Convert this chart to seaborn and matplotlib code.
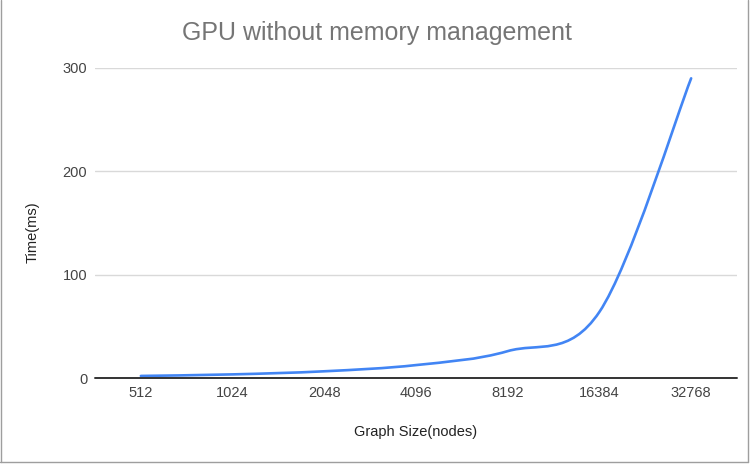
import numpy as np
import matplotlib
matplotlib.use("Agg")
import matplotlib.pyplot as plt
from matplotlib.path import Path
from matplotlib.patches import PathPatch
from matplotlib.lines import Line2D
import seaborn as sns

# graph sizes (category axis) and measured times
graph_sizes = ["512", "1024", "2048", "4096", "8192", "16384", "32768"]
time_ms = [2, 3.5, 6.5, 12.5, 26, 64, 290]
y_ticks = [0, 100, 200, 300]

sns.set_theme(style="whitegrid")
plt.rcParams['font.family'] = ['Liberation Sans', 'DejaVu Sans']

fig = plt.figure(figsize=(7.53, 4.67), dpi=100)
ax = fig.add_axes([95 / 753, 1 - 378 / 467, (737 - 95) / 753, (378 - 68) / 467])

# smooth line like the spreadsheet "smooth" option: catmull-rom -> cubic bezier
pts = np.column_stack([np.arange(len(time_ms)), time_ms]).astype(float)
verts = [tuple(pts[0])]
codes = [Path.MOVETO]
n = len(pts)
for i in range(n - 1):
    p0 = pts[max(i - 1, 0)]
    p1 = pts[i]
    p2 = pts[i + 1]
    p3 = pts[min(i + 2, n - 1)]
    c1 = p1 + (p2 - p0) / 6
    c2 = p2 - (p3 - p1) / 6
    verts += [tuple(c1), tuple(c2), tuple(p2)]
    codes += [Path.CURVE4] * 3
ax.add_patch(PathPatch(Path(verts, codes), facecolor="none", edgecolor="#4285f4",
                       lw=1.9, capstyle="round", joinstyle="round", zorder=3))

ax.set_xlim(-0.5, len(graph_sizes) - 0.5)
ax.set_ylim(0, 300)
ax.set_xticks(range(len(graph_sizes)))
ax.set_xticklabels(graph_sizes)
ax.set_yticks(y_ticks)
ax.grid(axis="x", visible=False)
ax.grid(axis="y", color="#d9d9d9", lw=1)
ax.axhline(0, color="#333333", lw=1.4, zorder=4, clip_on=False)
ax.set_facecolor("white")
sns.despine(ax=ax, left=True, bottom=True)
ax.tick_params(axis="both", length=0, labelsize=10.5, labelcolor="#444444")
ax.tick_params(axis="x", pad=6)
ax.tick_params(axis="y", pad=5.5)

ax.set_xlabel("Graph Size(nodes)", fontsize=10.5, color="#222222")
ax.set_ylabel("Time(ms)", fontsize=10.5, color="#222222")
ax.xaxis.set_label_coords(0.5, -(432 - 378) / 310)
ax.yaxis.set_label_coords(-(95 - 33) / 642, 0.47)
ax.xaxis.label.set_va("center")
ax.yaxis.label.set_va("center")
fig.text(377 / 753, 1 - 33 / 467, "GPU without memory management", ha="center", va="center",
         fontsize=18, color="#757575")

# spreadsheet frame around the chart
fig.add_artist(Line2D([0.5 / 753, 0.5 / 753], [1 - 462 / 467, 1], color="#9e9e9e", lw=1))
fig.add_artist(Line2D([748 / 753, 748 / 753], [1 - 462 / 467, 1], color="#9e9e9e", lw=1))
fig.add_artist(Line2D([0, 748 / 753], [1 - 462 / 467, 1 - 462 / 467], color="#9e9e9e", lw=1))

fig.savefig("out.png", dpi=100, facecolor="white")
